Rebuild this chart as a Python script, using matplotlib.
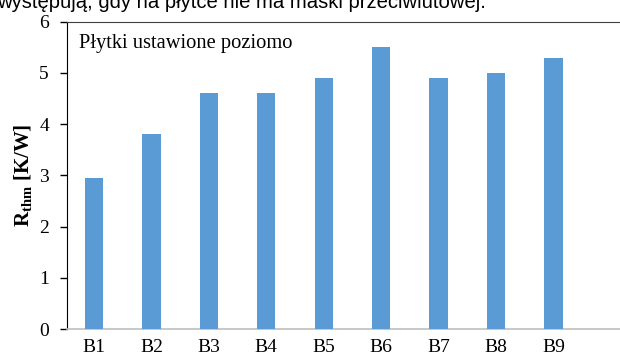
import matplotlib.pyplot as plt
import numpy as np

# data
labels = ["B1", "B2", "B3", "B4", "B5", "B6", "B7", "B8", "B9"]
rthm = [2.94, 3.80, 4.60, 4.60, 4.90, 5.50, 4.90, 5.00, 5.30]

plt.rcParams["font.family"] = ["Liberation Serif", "DejaVu Serif"]
plt.rcParams["mathtext.fontset"] = "custom"
plt.rcParams["mathtext.rm"] = "Liberation Serif"
plt.rcParams["mathtext.bf"] = "Liberation Serif:bold"

fig = plt.figure(figsize=(6.2, 3.58), dpi=100)
ax = fig.add_axes([67 / 620, 1 - 329 / 358, 1 - 67 / 620, (329 - 21.7) / 358])

x = np.arange(len(labels))
ax.bar(x, rthm, width=0.32, color="#5b9bd5", zorder=3)

ax.set_xlim(-0.47, 9.16)
ax.set_ylim(0, 6)
ax.set_yticks(range(0, 7))
ax.set_xticks(x)
ax.set_xticklabels(labels)

ax.spines["right"].set_visible(False)
ax.spines["top"].set_color("#404040")
ax.spines["left"].set_color("black")
ax.spines["bottom"].set_color("#bfbfbf")
ax.spines["bottom"].set_linewidth(1.2)
ax.tick_params(axis="y", direction="out", length=5, width=1, labelsize=14, pad=8)
ax.tick_params(axis="x", length=0, labelsize=14, pad=7)

ax.set_ylabel(r"$\mathbf{R_{thm}}$ [K/W]", fontsize=15, fontweight="bold", labelpad=4)

ax.text(0.022, 0.96, "Płytki ustawione poziomo", transform=ax.transAxes,
        fontsize=14.8, ha="left", va="top")

# line of document text cut off by the top edge
fig.text(-0.004, 1 - 7.5 / 358, "występują, gdy na płytce nie ma maski przeciwlutowej.",
         family=["Liberation Sans", "DejaVu Sans"], fontsize=14.6, ha="left", va="baseline")

plt.savefig("out.png", dpi=100)
